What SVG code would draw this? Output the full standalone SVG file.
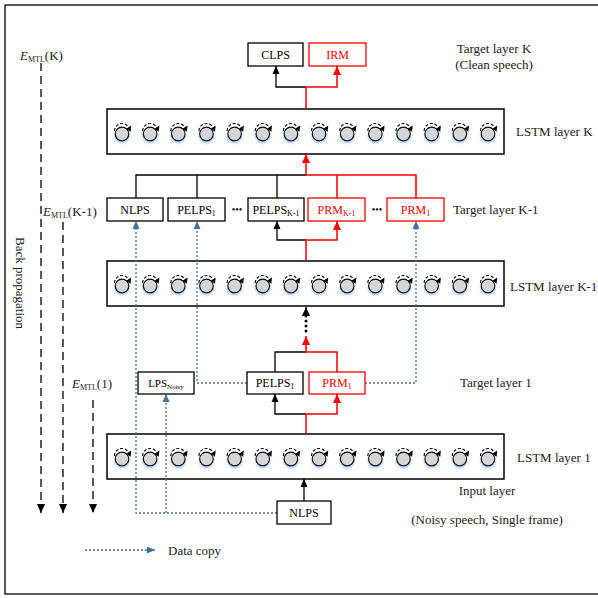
<svg xmlns="http://www.w3.org/2000/svg" xmlns:xlink="http://www.w3.org/1999/xlink" width="598" height="598" viewBox="0 0 598 598">
<style>
text{font-family:"Liberation Serif","Times New Roman",serif;font-size:13px;fill:#222}
.bx{font-size:12px;fill:#000}
.rt{fill:#ff0000}
.sub{font-size:8px}
.ell{font-size:10px;fill:#000}
.box{fill:#fff;stroke:#000;stroke-width:1.3}
.rbox{fill:#fff;stroke:#ff0000;stroke-width:1.3}
.layer{fill:#fff;stroke:#000;stroke-width:1.5}
.k{fill:none;stroke:#000;stroke-width:1.3}
.r{fill:none;stroke:#ff0000;stroke-width:1.5}
.b{fill:none;stroke:#41719c;stroke-width:1.3;stroke-dasharray:2 2}
.bp{fill:none;stroke:#000;stroke-width:1.3;stroke-dasharray:8 5}
.dots{fill:none;stroke:#000;stroke-width:3;stroke-dasharray:0 5;stroke-linecap:round}
</style>
<defs>
<marker id="ak" markerUnits="userSpaceOnUse" markerWidth="8" markerHeight="8" refX="8" refY="4" orient="auto"><path d="M0,0.5 L8,4 L0,7.5z" fill="#000"/></marker>
<marker id="ar" markerUnits="userSpaceOnUse" markerWidth="9" markerHeight="9" refX="9" refY="4.5" orient="auto"><path d="M0,0.5 L9,4.5 L0,8.5z" fill="#ff0000"/></marker>
<marker id="ab" markerUnits="userSpaceOnUse" markerWidth="8" markerHeight="8" refX="8" refY="4" orient="auto"><path d="M0,0.5 L8,4 L0,7.5z" fill="#41719c"/></marker>
<marker id="abk" markerUnits="userSpaceOnUse" markerWidth="9" markerHeight="9" refX="9" refY="4.5" orient="auto"><path d="M0,0.5 L9,4.5 L0,8.5z" fill="#000"/></marker>
<filter id="glow" x="-50%" y="-50%" width="200%" height="200%"><feDropShadow dx="0" dy="1.5" stdDeviation="1" flood-color="#7fb0e0" flood-opacity="0.8"/></filter>
<g id="n">
<circle cx="0" cy="0" r="6.8" fill="#d6d6d6" stroke="#000" stroke-width="1.2" filter="url(#glow)"/>
<path d="M-7.5,-3 A7.5,7.5 0 0 1 6,-7.5" fill="none" stroke="#000" stroke-width="1.1" stroke-dasharray="3 1.8"/>
<path d="M9.2,-8.5 L4.2,-5.2 L8.6,-2.2z" fill="#000"/>
</g>
<g id="row">
<use xlink:href="#n" x="122"/><use xlink:href="#n" x="150.15"/><use xlink:href="#n" x="178.3"/><use xlink:href="#n" x="206.45"/><use xlink:href="#n" x="234.6"/><use xlink:href="#n" x="262.75"/><use xlink:href="#n" x="290.9"/><use xlink:href="#n" x="319.05"/><use xlink:href="#n" x="347.2"/><use xlink:href="#n" x="375.35"/><use xlink:href="#n" x="403.5"/><use xlink:href="#n" x="431.65"/><use xlink:href="#n" x="459.8"/><use xlink:href="#n" x="488"/>
</g>
</defs>
<rect x="5" y="5" width="600" height="589" fill="#fff" stroke="#000" stroke-width="1.3"/>

<g id="lstmK"><rect class="layer" x="107" y="109" width="397" height="45"/><use xlink:href="#row" y="134"/><text x="516" y="136">LSTM layer K</text></g>
<g id="lstmK1"><rect class="layer" x="107" y="261" width="397" height="45"/><use xlink:href="#row" y="286"/><text x="510" y="291">LSTM layer K-1</text></g>
<g id="lstm1"><rect class="layer" x="107" y="434" width="397" height="45"/><use xlink:href="#row" y="459"/><text x="517" y="462">LSTM layer 1</text></g>

<g id="connectors">
<path class="k" d="M306,87 H276 V66" marker-end="url(#ak)"/>
<path class="r" d="M306,109 V87 H337 V66" marker-end="url(#ar)"/>
<path class="r" d="M306,175 V154" marker-end="url(#ar)"/>
<path class="k" d="M136,198 V175 H306 M197,198 V175 M277,198 V175"/>
<path class="r" d="M306,175 H416 V198 M337,175 V198"/>
<path class="k" d="M306,240 H277 V221" marker-end="url(#ak)"/>
<path class="r" d="M306,261 V240 H337 V221" marker-end="url(#ar)"/>
<path class="k" d="M275,372 V352 H306"/>
<path class="r" d="M337,372 V352 H306 V336" marker-end="url(#ar)"/>
<path class="dots" d="M306,331 V314"/>
<path class="k" d="M306,312 V307" marker-end="url(#abk)"/>
<path class="k" d="M306,414 H275 V394" marker-end="url(#ak)"/>
<path class="r" d="M306,434 V414 H337 V394" marker-end="url(#ar)"/>
<path class="k" d="M304,501 V479" marker-end="url(#ak)"/>
<path class="b" d="M277,513 H136 V221" marker-end="url(#ab)"/>
<path class="b" d="M166,513 V394" marker-end="url(#ab)"/>
<path class="b" d="M247,383 H197 V221" marker-end="url(#ab)"/>
<path class="b" d="M365,383 H416 V221" marker-end="url(#ab)"/>
<path class="b" d="M85,550 H155" marker-end="url(#ab)"/>
<path class="bp" d="M41,63 V513" marker-end="url(#abk)"/>
<path class="bp" d="M63,222 V513" marker-end="url(#abk)"/>
<path class="bp" d="M93,400 V513" marker-end="url(#abk)"/>
</g>

<g id="clps"><rect class="box" x="248" y="43" width="55" height="23"/><text class="bx" x="275.5" y="59" text-anchor="middle">CLPS</text></g>
<g id="irm"><rect class="rbox" x="309" y="43" width="57" height="23"/><text class="bx rt" x="337.5" y="59" text-anchor="middle">IRM</text></g>
<g id="tK"><text x="494" y="53" text-anchor="middle">Target layer K</text><text x="494" y="69" text-anchor="middle">(Clean speech)</text></g>

<g id="nlpsK1"><rect class="box" x="107" y="198" width="56" height="23"/><text class="bx" x="135" y="214" text-anchor="middle">NLPS</text></g>
<g id="pelps1K1"><rect class="box" x="168" y="198" width="57" height="23"/><text class="bx" x="196.5" y="214" text-anchor="middle">PELPS<tspan class="sub" dy="2">1</tspan></text></g>
<text class="ell" x="237" y="213" text-anchor="middle">•••</text>
<g id="pelpsK1"><rect class="box" x="248" y="198" width="56" height="23"/><text class="bx" x="276" y="214" text-anchor="middle">PELPS<tspan class="sub" dy="2">K-1</tspan></text></g>
<g id="prmK1"><rect class="rbox" x="308" y="198" width="57" height="23"/><text class="bx rt" x="336.5" y="214" text-anchor="middle">PRM<tspan class="sub" dy="2">K-1</tspan></text></g>
<text class="ell" x="377" y="213" text-anchor="middle">•••</text>
<g id="prm1K1"><rect class="rbox" x="387" y="198" width="57" height="23"/><text class="bx rt" x="415.5" y="214" text-anchor="middle">PRM<tspan class="sub" dy="2">1</tspan></text></g>
<g id="tK1"><text x="453" y="214">Target layer K-1</text></g>

<g id="lpsNoisy"><rect class="box" x="138" y="372" width="56" height="22"/><text class="bx" x="166" y="387" text-anchor="middle" style="font-size:11px">LPS<tspan style="font-size:7px" dy="2">Noisy</tspan></text></g>
<g id="pelps1"><rect class="box" x="247" y="372" width="56" height="22"/><text class="bx" x="275" y="387" text-anchor="middle">PELPS<tspan class="sub" dy="2">1</tspan></text></g>
<g id="prm1"><rect class="rbox" x="309" y="372" width="56" height="22"/><text class="bx rt" x="337" y="387" text-anchor="middle">PRM<tspan class="sub" dy="2">1</tspan></text></g>
<g id="t1"><text x="460" y="387">Target layer 1</text></g>

<g id="nlpsIn"><rect class="box" x="277" y="501" width="54" height="23"/><text class="bx" x="304" y="517" text-anchor="middle">NLPS</text></g>
<g id="tIn"><text x="487" y="495" text-anchor="middle">Input layer</text><text x="487" y="524" text-anchor="middle">(Noisy speech, Single frame)</text></g>

<g id="labels">
<text x="20" y="60"><tspan font-style="italic">E</tspan><tspan class="sub" dy="2">MTL</tspan><tspan dy="-2">(K)</tspan></text>
<text x="43" y="216"><tspan font-style="italic">E</tspan><tspan class="sub" dy="2">MTL</tspan><tspan dy="-2">(K-1)</tspan></text>
<text x="72" y="388"><tspan font-style="italic">E</tspan><tspan class="sub" dy="2">MTL</tspan><tspan dy="-2">(1)</tspan></text>
<text transform="translate(16,283) rotate(90)" text-anchor="middle">Back propagation</text>
<text x="168" y="555">Data copy</text>
</g>
</svg>
